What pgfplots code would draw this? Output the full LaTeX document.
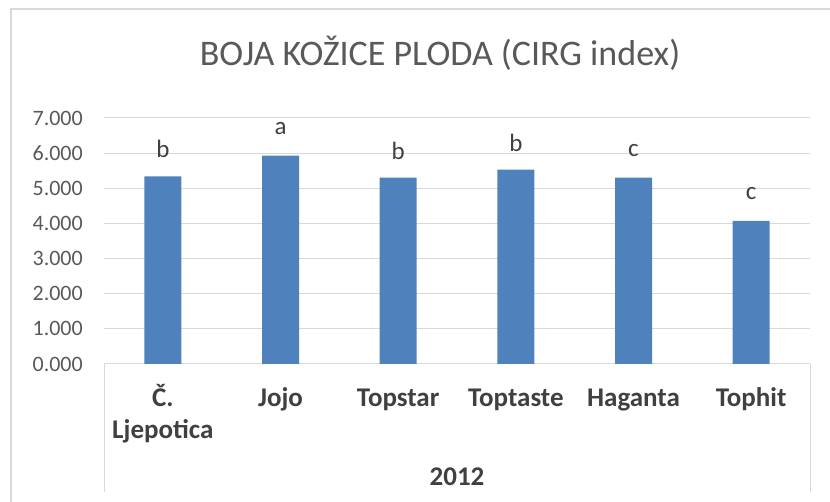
\documentclass[border=0pt]{standalone}
\usepackage{pgfplots}
\pgfplotsset{compat=1.18}
\usepackage{fontspec}
\setmainfont{Carlito}
\definecolor{barblue}{HTML}{4F81BD}
\definecolor{gridgray}{HTML}{D9D9D9}
\definecolor{txtgray}{HTML}{595959}
\definecolor{lbl}{HTML}{404040}
\newcommand{\st}{\rule{0pt}{24pt}}
\begin{document}
\begin{tikzpicture}[x=1pt,y=1pt]
\path[use as bounding box] (0,0) rectangle (830,502);
\draw[gridgray, line width=1.5pt] (11,0) -- (11,493) -- (832,493);
\node[txtgray, font=\fontsize{36}{36}\selectfont] at (440,449) {BOJA KOŽICE PLODA (CIRG index)};
\begin{axis}[
  at={(104pt,138pt)}, anchor=south west, scale only axis,
  width=706pt, height=246pt,
  xmin=-0.5, xmax=5.5, ymin=0, ymax=7,
  ytick={0,1,...,7},
  xtick={0,1,2,3,4,5},
  xticklabels={{\st Č.\\Ljepotica},{\st Jojo},{\st Topstar},{\st Toptaste},{\st Haganta},{\st Tophit}},
  axis lines*=left,
  y axis line style={draw=none},
  x axis line style={draw=gridgray, line width=1pt, -},
  major tick length=0pt,
  ymajorgrids,
  grid style={gridgray, line width=1pt},
  yticklabel style={font=\fontsize{22}{22}\selectfont, text=txtgray, inner sep=0pt, xshift=-21pt,
    /pgf/number format/.cd, fixed, fixed zerofill, precision=3, assume math mode=true},
  xticklabel style={font=\fontsize{27}{32}\selectfont\bfseries, text=lbl, align=center, anchor=north, inner sep=0pt, yshift=-18.5pt},
  clip=false,
]
\addplot[ybar, bar width=37pt, fill=barblue, draw=none,
  nodes near coords, point meta=explicit symbolic,
  every node near coord/.style={anchor=center, yshift=27pt, font=\fontsize{25}{25}\selectfont, text=lbl}]
  table[meta=lab] {
x y lab
0 5.34 b
1 5.93 a
2 5.30 b
3 5.53 b
4 5.30 c
5 4.07 c
};
\end{axis}
\draw[gridgray, line width=1pt] (104,138) -- (104,10);
\draw[gridgray, line width=1pt] (810,138) -- (810,10);
\node[lbl, font=\fontsize{27}{27}\selectfont\bfseries, anchor=base] at (457,16) {2012};
\end{tikzpicture}
\end{document}
